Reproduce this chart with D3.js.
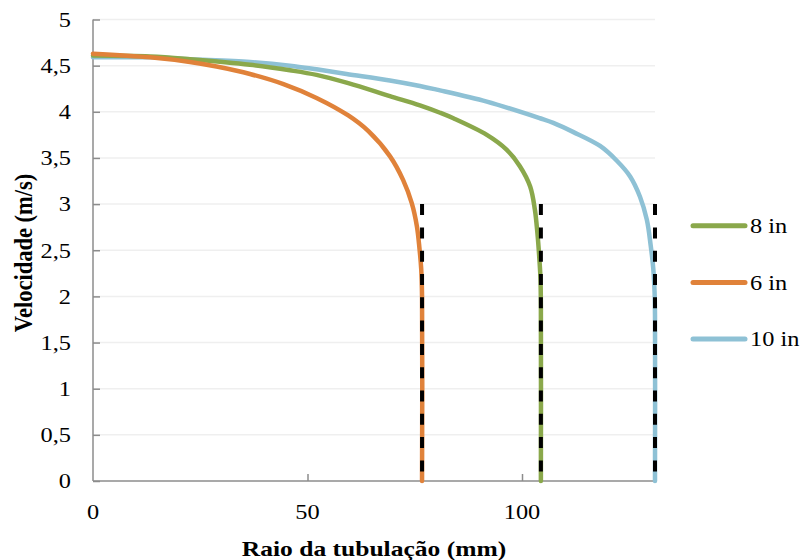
<!DOCTYPE html>
<html>
<head>
<meta charset="utf-8">
<script src="https://cdn.jsdelivr.net/npm/d3@7"></script>
<style>
  body { margin: 0; background: #fff; }
  svg text { font-family: 'Liberation Serif', 'Times New Roman', serif; fill: #000; }
</style>
</head>
<body>
<div id="chart"></div>
<script>
// series: [raio (mm), velocidade (m/s)]
var series6in = [[0, 4.63], [13.3, 4.59], [22.6, 4.54], [28.8, 4.49], [36.6, 4.41], [44.4, 4.30],
  [52.1, 4.15], [59.5, 3.96], [64.2, 3.79], [69.2, 3.52], [72.3, 3.26], [74.3, 3.01], [75.5, 2.76],
  [76.1, 2.52], [76.5, 2.3], [76.7, 2.0], [76.7, 0]]
var series8in = [[0, 4.61], [13.3, 4.60], [22.6, 4.57], [36.6, 4.51], [45.9, 4.45], [52.1, 4.40],
  [59.5, 4.31], [69.2, 4.17], [76.2, 4.07], [80.9, 3.99], [84.0, 3.93], [91.8, 3.75], [96.4, 3.59],
  [99.5, 3.41], [101.9, 3.19], [103.0, 2.94], [103.6, 2.68], [104.0, 2.44], [104.3, 2.2],
  [104.4, 1.9], [104.4, 0]]
var series10in = [[0, 4.59], [13.3, 4.59], [22.6, 4.57], [36.6, 4.54], [45.9, 4.50], [52.1, 4.46],
  [59.1, 4.41], [69.2, 4.34], [76.2, 4.28], [80.1, 4.24], [91.8, 4.11], [104.2, 3.93], [107.3, 3.88],
  [112.0, 3.78], [118.2, 3.63], [122.1, 3.47], [125.2, 3.30], [127.5, 3.08], [129.1, 2.83],
  [130.0, 2.55], [130.6, 2.3], [130.9, 2.05], [131, 1.8], [131, 0]]

// pipe walls (dashed markers), from 0 to 3 m/s
var wallRadii = [76.7, 104.4, 131]
var wallTop = 3

var legendNames = ['8 in', '6 in', '10 in']
var xTicks = [0, 50, 100]
var xTickLabels = ['0', '50', '100']
var yTicks = [0, 0.5, 1, 1.5, 2, 2.5, 3, 3.5, 4, 4.5, 5]
var yTickLabels = ['0', '0,5', '1', '1,5', '2', '2,5', '3', '3,5', '4', '4,5', '5']

var colors = { '8 in': '#8aa84b', '6 in': '#e0823a', '10 in': '#8ec1d5' }
var seriesByName = { '8 in': series8in, '6 in': series6in, '10 in': series10in }

var W = 804, H = 560
var plot = { left: 93, right: 655, top: 19.5, bottom: 481 }
// the original picture is a bit wider than tall, text looks stretched horizontally
var STRETCH = 1.16

function place(tx, ty, extra) {
  return 'translate(' + tx + ',' + ty + ') scale(' + STRETCH + ',1)' + (extra || '')
}

var x = d3.scaleLinear().domain([0, 131]).range([plot.left, plot.right])
var y = d3.scaleLinear().domain([0, 5]).range([plot.bottom, plot.top])

var svg = d3.select('#chart').append('svg')
  .attr('width', W)
  .attr('height', H)

// gridlines
svg.append('g').selectAll('line')
  .data(yTicks.filter(function(d){ return d > 0 }))
  .enter().append('line')
    .attr('x1', plot.left).attr('x2', plot.right)
    .attr('y1', function(d){ return y(d) }).attr('y2', function(d){ return y(d) })
    .attr('stroke', '#efefef')
    .attr('stroke-width', 1.5)

// y axis, ticks inside
var yAxis = d3.axisRight(y).tickValues(yTicks).tickSize(7).tickFormat('')
var gy = svg.append('g').attr('transform', 'translate(' + plot.left + ',0)').call(yAxis)
gy.select('.domain').attr('d', 'M0,' + plot.top + 'V' + plot.bottom)
gy.selectAll('line, path').attr('stroke', '#8c8c8c').attr('stroke-width', 1.5)

svg.append('g').selectAll('text')
  .data(yTicks)
  .enter().append('text')
    .attr('transform', function(d){ return place(71, y(d)) })
    .attr('dy', '0.35em')
    .attr('text-anchor', 'end')
    .attr('font-size', '21px')
    .text(function(d, i){ return yTickLabels[i] })

// x axis, ticks pointing up
var xAxis = d3.axisTop(x).tickValues(xTicks.filter(function(d){ return d > 0 })).tickSize(7).tickFormat('')
var gx = svg.append('g').attr('transform', 'translate(0,' + plot.bottom + ')').call(xAxis)
gx.select('.domain').attr('d', 'M' + plot.left + ',0H' + plot.right)
gx.selectAll('line, path').attr('stroke', '#8c8c8c').attr('stroke-width', 1.5)

svg.append('g').selectAll('text')
  .data(xTicks)
  .enter().append('text')
    .attr('transform', function(d){ return place(x(d), 519) })
    .attr('text-anchor', 'middle')
    .attr('font-size', '21px')
    .text(function(d, i){ return xTickLabels[i] })

// curves
var line = d3.line()
  .x(function(d){ return x(d[0]) })
  .y(function(d){ return y(d[1]) })
  .curve(d3.curveCatmullRom.alpha(0.5))

;['10 in', '8 in', '6 in'].forEach(function(name){
  svg.append('path')
    .datum(seriesByName[name])
    .attr('d', line)
    .attr('fill', 'none')
    .attr('stroke', colors[name])
    .attr('stroke-width', 4.5)
    .attr('stroke-linejoin', 'round')
    .attr('stroke-linecap', 'round')
})

// pipe wall dashed lines
svg.append('g').selectAll('line')
  .data(wallRadii)
  .enter().append('line')
    .attr('x1', function(d){ return x(d) }).attr('x2', function(d){ return x(d) })
    .attr('y1', y(wallTop)).attr('y2', y(0))
    .attr('stroke', '#000')
    .attr('stroke-width', 4)
    .attr('stroke-dasharray', '11,12.3')

// axis titles
svg.append('text')
  .attr('transform', place((plot.left + plot.right) / 2, 556))
  .attr('text-anchor', 'middle')
  .attr('font-size', '22px')
  .attr('font-weight', 'bold')
  .text('Raio da tubulação (mm)')

svg.append('text')
  .attr('transform', place(32, 253, ' rotate(-90)'))
  .attr('text-anchor', 'middle')
  .attr('font-size', '22.5px')
  .attr('font-weight', 'bold')
  .text('Velocidade (m/s)')

// legend
var legend = svg.append('g').selectAll('g')
  .data(legendNames)
  .enter().append('g')
    .attr('transform', function(d, i){ return 'translate(0,' + (225.7 + i * 56.7) + ')' })

legend.append('line')
  .attr('x1', 693).attr('x2', 745)
  .attr('stroke', function(d){ return colors[d] })
  .attr('stroke-width', 5)
  .attr('stroke-linecap', 'round')

legend.append('text')
  .attr('transform', place(750, 0))
  .attr('dy', '0.35em')
  .attr('font-size', '21px')
  .text(function(d){ return d })
</script>
</body>
</html>
